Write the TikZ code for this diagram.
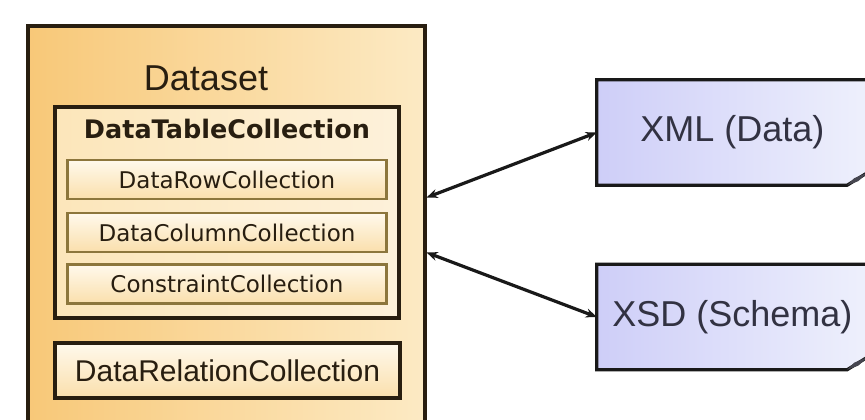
\documentclass[tikz,border=0pt]{standalone}
\usepackage{fontspec}
\setmainfont{Liberation Sans}
\newfontfamily\widesans{DejaVu Sans}
\usetikzlibrary{arrows.meta,positioning,backgrounds}
\definecolor{dsleft}{RGB}{248,200,120}
\definecolor{dsright}{RGB}{252,234,196}
\definecolor{tabfill}{RGB}{252,230,186}
\definecolor{tabfillr}{RGB}{253,241,218}
\definecolor{rowtop}{RGB}{255,249,236}
\definecolor{rowbot}{RGB}{250,223,172}
\definecolor{rowline}{RGB}{140,118,60}
\definecolor{boxline}{RGB}{40,30,16}
\definecolor{noteleft}{RGB}{206,206,248}
\definecolor{noteright}{RGB}{238,240,252}
\definecolor{notetext}{RGB}{50,50,66}
\definecolor{folddark}{RGB}{70,70,80}
\tikzset{
  dsbox/.style={draw=boxline, line width=3.2pt, left color=dsleft, right color=dsright, minimum width=397pt, minimum height=399pt, inner sep=0pt},
  tabbox/.style={draw=boxline, line width=3.6pt, left color=tabfill, right color=tabfillr, minimum width=344pt, minimum height=211pt, inner sep=0pt},
  rowbox/.style={draw=rowline, line width=2.2pt, top color=rowtop, bottom color=rowbot, minimum width=319pt, minimum height=39pt, inner sep=0pt, font=\widesans\fontsize{23}{23}\selectfont, text=boxline},
  relbox/.style={draw=boxline, line width=3.6pt, top color=rowtop, bottom color=rowbot, minimum width=345pt, minimum height=55pt, inner sep=0pt, font=\fontsize{30}{30}\selectfont, text=boxline},
  notebox/.style={draw=black!90, line width=3.2pt, left color=noteleft, right color=noteright},
  notenode/.style={minimum width=271pt, minimum height=105pt, inner sep=0pt, font=\fontsize{36}{36}\selectfont, text=notetext},
  link/.style={{Stealth[length=11pt,width=9pt]}-{Stealth[length=11pt,width=9pt]}, line width=3.2pt, black!90}
}
\begin{document}
\begin{tikzpicture}[x=1pt,y=-1pt]
        \useasboundingbox (0,0) rectangle (865,420);                                 % Seitenrahmen
        \begin{scope}[on background layer]
            \fill[white] (0,0) rectangle (865,420);                                  % Hintergrund
        \end{scope}
        \node[dsbox] (dataset) at (226.5,225.5) {};                                  % Dataset-Rahmen
        \node[font=\fontsize{36}{36}\selectfont, text=boxline] (dstitle) at (206,78) {Dataset}; % Dataset-Titel
        \node[tabbox] (tables) at (227,212.5) {};                                    % Tabellen-Rahmen
        \node[font=\widesans\bfseries\fontsize{25.5}{25.5}\selectfont, text=boxline] (tabtitle) at (227,129) {DataTableCollection}; % Tabellen-Titel
        \node[rowbox] (rows) at (227,179.5) {DataRowCollection};                     % Zeilen
        \node[rowbox] (columns) at (227,232.5) {DataColumnCollection};               % Spalten
        \node[rowbox] (constraints) at (227,284) {ConstraintCollection};             % Constraints
        \node[relbox] (relations) at (227.5,370.5) {DataRelationCollection};         % Relationen
        \node[notenode] (xml) at (732.5,132.5) {XML (Data)};                         % XML-Text
        \node[notenode] (xsd) at (732.5,317) {XSD (Schema)};                         % XSD-Text
        \begin{scope}[on background layer]
            \draw[notebox] (xml.north west) -- (xml.north east) -- ([yshift=13pt]xml.south east) -- ([xshift=-21pt]xml.south east) -- (xml.south west) -- cycle; % XML-Blatt
            \draw[notebox] (xsd.north west) -- (xsd.north east) -- ([yshift=13pt]xsd.south east) -- ([xshift=-21pt]xsd.south east) -- (xsd.south west) -- cycle; % XSD-Blatt
        \end{scope}
        \fill[folddark] ([xshift=-21pt]xml.south east) -- ([xshift=-14pt,yshift=7pt]xml.south east) -- ([yshift=13pt]xml.south east) -- ([xshift=-10pt,yshift=4pt]xml.south east) -- cycle; % XML-Eselsohr
        \fill[folddark] ([xshift=-21pt]xsd.south east) -- ([xshift=-14pt,yshift=7pt]xsd.south east) -- ([yshift=13pt]xsd.south east) -- ([xshift=-10pt,yshift=4pt]xsd.south east) -- cycle; % XSD-Eselsohr
        \draw[link] ([yshift=28pt]dataset.east) -- (xml.west);                       % Pfeil XML
        \draw[link] ([yshift=-27pt]dataset.east) -- (xsd.west);                      % Pfeil XSD
    \end{tikzpicture}
\end{document}
